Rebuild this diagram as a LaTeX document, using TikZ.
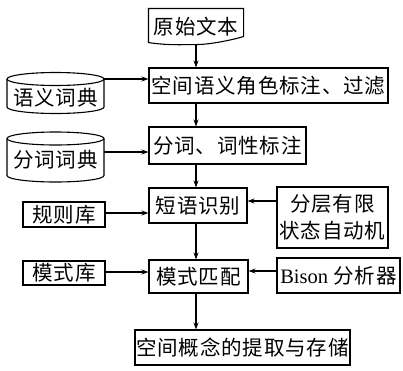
\documentclass[tikz,border=0pt]{standalone}
\usepackage{fontspec}
\setmainfont{Liberation Serif}
\newfontfamily\cjk[LetterSpace=4]{Noto Sans CJK SC}
\usetikzlibrary{arrows.meta}
\begin{document}
\begin{tikzpicture}[x=1pt,y=1pt,
  line width=1.1pt,
  every node/.style={font=\cjk\fontsize{20.5pt}{27pt}\selectfont, inner sep=0pt, align=center},
  box/.style={draw, rectangle},
  plain/.style={draw=none},
  arr/.style={-{Stealth[length=7pt,width=5pt]}}]
\useasboundingbox (0,0) rectangle (403,-370);

% source document
\node[plain, minimum width=94pt, minimum height=35pt] (src) at (196,-26.5) {原始文本};
\draw (src.north west) -- ([yshift=2pt]src.south west)
  .. controls +(20pt,-3pt) and +(-15pt,0pt) .. (src.south)
  .. controls +(15pt,0pt) and +(-10pt,-3pt) .. ([yshift=8pt]src.south east)
  -- (src.north east) -- cycle;

% process boxes
\node[box, minimum width=239pt, minimum height=35pt] (role) at (268.5,-85.5) {空间语义角色标注、过滤};
\node[box, minimum width=157pt, minimum height=37pt] (seg) at (227.5,-145.5) {分词、词性标注};
\node[box, minimum width=98pt, minimum height=35pt] (phrase) at (198,-205.5) {短语识别};
\node[box, minimum width=99pt, minimum height=33pt] (match) at (198.5,-276.5) {模式匹配};
\node[box, minimum width=215pt, minimum height=35pt] (out) at (242.5,-347.5) {空间概念的提取与存储};

% side boxes
\node[box, minimum width=82pt, minimum height=25pt] (rules) at (64,-214.5) {规则库};
\node[box, minimum width=82pt, minimum height=24pt] (patlib) at (64,-273) {模式库};
\node[box, minimum width=111pt, minimum height=61pt] (fsa) at (332.5,-217.5) {分层有限\\状态自动机};
\node[box, minimum width=123pt, minimum height=35pt] (bison) at (338.5,-275.5) {{\fontspec{Liberation Serif}Bison} 分析器};

% cylinders
\coordinate (d1top) at (55.5,-79);
\draw (d1top) ellipse [x radius=48.5pt, y radius=6.5pt];
\draw ([xshift=-48.5pt]d1top) -- ++(0,-28) arc[start angle=180, end angle=360, x radius=48.5pt, y radius=6.5pt] -- ([xshift=48.5pt]d1top);
\node[plain] (dict1) at (55.5,-98) {语义词典};
\coordinate (d1out) at (104,-79);

\coordinate (d2top) at (55.5,-138.5);
\draw (d2top) ellipse [x radius=48.5pt, y radius=6.5pt];
\draw ([xshift=-48.5pt]d2top) -- ++(0,-37) arc[start angle=180, end angle=360, x radius=48.5pt, y radius=6.5pt] -- ([xshift=48.5pt]d2top);
\node[plain] (dict2) at (55.5,-160) {分词词典};
\coordinate (d2out) at (104,-152);

% vertical flow
\draw[arr] (src.south) -- (src.south |- role.north);
\draw[arr] (role.south -| src.south) -- (seg.north -| src.south);
\draw[arr] (seg.south -| src.south) -- (phrase.north -| src.south);
\draw[arr] (phrase.south -| src.south) -- (match.north -| src.south);
\draw[arr] (match.south -| src.south) -- (out.north -| src.south);

% horizontal inputs
\draw[arr] (d1out) -- (d1out -| role.west);
\draw[arr] (d2out) -- (d2out -| seg.west);
\draw[arr] ([yshift=1.5pt]rules.east) -- ([yshift=1.5pt]rules.east -| phrase.west);
\draw[arr] ([yshift=16.5pt]fsa.west) -- ([yshift=16.5pt]fsa.west -| phrase.east);
\draw[arr] ([yshift=1pt]patlib.east) -- ([yshift=1pt]patlib.east -| match.west);
\draw[arr] ([yshift=4.5pt]bison.west) -- ([yshift=4.5pt]bison.west -| match.east);
\end{tikzpicture}
\end{document}
